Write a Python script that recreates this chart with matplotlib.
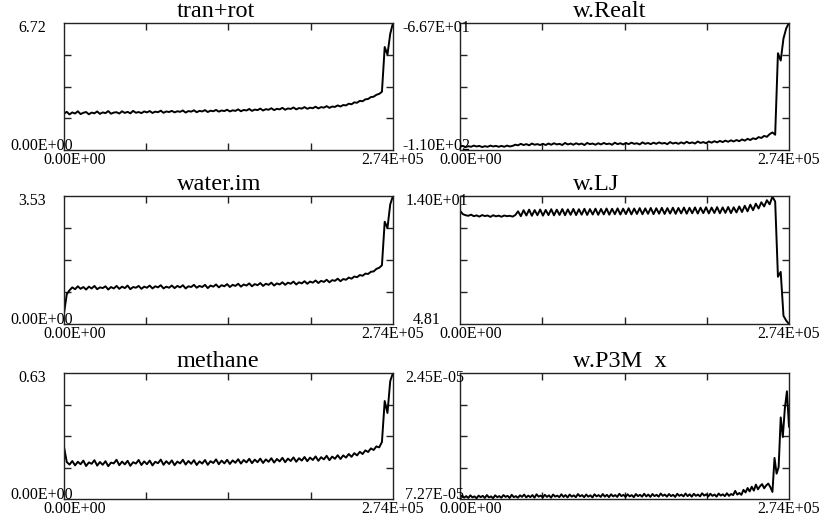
import numpy as np
import matplotlib
matplotlib.use('Agg')
import matplotlib.pyplot as plt

plt.rcParams['font.family'] = 'Liberation Serif'

x_max = 2.74e5

tran_rot = [
    1.92, 2.02, 1.88, 1.99, 1.93, 2.05, 1.90, 1.97, 2.01, 1.89,
    1.98, 1.94, 2.04, 1.91, 1.99, 1.95, 2.06, 1.92, 1.98, 2.00,
    1.93, 2.05, 1.96, 2.02, 1.94, 2.07, 1.97, 2.01, 1.95, 2.04,
    1.99, 2.06, 1.96, 2.03, 2.00, 2.08, 1.97, 2.04, 2.01, 2.07,
    1.99, 2.05, 2.02, 2.09, 1.98, 2.06, 2.03, 2.10, 2.00, 2.07,
    2.04, 2.11, 2.01, 2.08, 2.05, 2.12, 2.03, 2.09, 2.06, 2.13,
    2.04, 2.10, 2.07, 2.15, 2.05, 2.12, 2.09, 2.17, 2.07, 2.14,
    2.11, 2.19, 2.09, 2.16, 2.13, 2.21, 2.11, 2.18, 2.15, 2.23,
    2.13, 2.20, 2.17, 2.25, 2.15, 2.22, 2.19, 2.27, 2.18, 2.24,
    2.21, 2.29, 2.20, 2.27, 2.24, 2.32, 2.23, 2.30, 2.28, 2.36,
    2.30, 2.38, 2.36, 2.45, 2.42, 2.52, 2.50, 2.60, 2.58, 2.68,
    2.70, 2.80, 2.82, 2.92, 2.97, 3.08, 5.45, 5.05, 6.15, 6.72,
]

w_realt = [
    -108.9, -108.6, -109.0, -108.7, -108.9, -108.5, -108.8, -108.6, -109.0, -108.7,
    -108.9, -108.5, -108.8, -108.6, -108.9, -108.6, -108.9, -108.5, -108.8, -108.6,
    -108.2, -108.4, -107.9, -108.3, -108.0, -108.4, -107.8, -108.2, -108.0, -108.3,
    -107.9, -108.3, -107.8, -108.2, -107.7, -108.1, -107.9, -108.3, -107.6, -108.1,
    -107.8, -108.2, -107.7, -108.1, -107.8, -108.3, -107.6, -108.0, -107.8, -108.2,
    -107.7, -108.1, -107.6, -108.0, -107.8, -108.2, -107.5, -108.0, -107.7, -108.1,
    -107.6, -108.0, -107.5, -107.9, -107.7, -108.1, -107.4, -107.9, -107.6, -108.0,
    -107.5, -107.9, -107.4, -107.8, -107.6, -108.0, -107.3, -107.8, -107.5, -107.9,
    -107.4, -107.8, -107.2, -107.7, -107.4, -107.8, -107.1, -107.6, -107.3, -107.7,
    -107.1, -107.5, -107.0, -107.4, -106.9, -107.3, -106.8, -107.2, -106.7, -107.1,
    -106.6, -107.0, -106.4, -106.8, -106.2, -106.6, -106.0, -106.3, -105.6, -105.9,
    -105.2, -105.5, -104.6, -104.0, -104.8, -77.0, -79.5, -72.0, -68.5, -66.7,
]

water_im = [
    0.30, 0.82, 0.93, 1.01, 0.96, 1.04, 0.97, 1.02, 0.95, 1.03,
    0.98, 1.05, 0.96, 1.01, 0.99, 1.04, 0.95, 1.02, 0.98, 1.05,
    0.97, 1.03, 0.99, 1.06, 0.96, 1.02, 1.00, 1.05, 0.97, 1.03,
    1.00, 1.06, 0.98, 1.04, 1.01, 1.07, 0.98, 1.03, 1.00, 1.06,
    0.99, 1.05, 1.01, 1.07, 0.98, 1.04, 1.02, 1.08, 1.00, 1.05,
    1.02, 1.08, 0.99, 1.06, 1.03, 1.09, 1.01, 1.07, 1.04, 1.10,
    1.02, 1.08, 1.05, 1.11, 1.03, 1.09, 1.06, 1.12, 1.04, 1.10,
    1.07, 1.13, 1.05, 1.11, 1.08, 1.14, 1.06, 1.12, 1.09, 1.15,
    1.08, 1.14, 1.11, 1.17, 1.09, 1.15, 1.12, 1.18, 1.11, 1.17,
    1.14, 1.20, 1.13, 1.19, 1.16, 1.22, 1.15, 1.21, 1.19, 1.25,
    1.18, 1.24, 1.22, 1.28, 1.25, 1.31, 1.29, 1.35, 1.33, 1.39,
    1.38, 1.44, 1.45, 1.52, 1.55, 1.62, 2.82, 2.65, 3.30, 3.53,
]

w_lj = [
    12.95, 12.70, 12.62, 12.58, 12.66, 12.55, 12.61, 12.52, 12.63, 12.56,
    12.60, 12.50, 12.62, 12.54, 12.59, 12.51, 12.60, 12.55, 12.58, 12.52,
    12.63, 12.90, 12.55, 12.98, 12.60, 13.02, 12.58, 12.99, 12.62, 13.03,
    12.59, 13.00, 12.63, 13.05, 12.61, 13.02, 12.64, 13.06, 12.62, 13.04,
    12.65, 13.07, 12.63, 13.05, 12.66, 13.08, 12.64, 13.06, 12.67, 13.09,
    12.65, 13.07, 12.68, 13.10, 12.66, 13.08, 12.69, 13.11, 12.67, 13.09,
    12.70, 13.12, 12.68, 13.10, 12.71, 13.13, 12.69, 13.11, 12.72, 13.14,
    12.70, 13.12, 12.73, 13.15, 12.71, 13.13, 12.74, 13.16, 12.72, 13.14,
    12.75, 13.17, 12.73, 13.15, 12.76, 13.18, 12.74, 13.16, 12.77, 13.19,
    12.75, 13.17, 12.78, 13.20, 12.76, 13.18, 12.79, 13.21, 12.77, 13.19,
    12.82, 13.25, 12.85, 13.30, 12.90, 13.38, 12.98, 13.45, 13.10, 13.55,
    13.25, 13.70, 13.40, 13.95, 13.60, 8.20, 8.55, 5.40, 5.05, 4.81,
]

methane = [
    0.260, 0.185, 0.172, 0.190, 0.168, 0.186, 0.174, 0.192, 0.165, 0.183,
    0.176, 0.194, 0.167, 0.185, 0.171, 0.189, 0.164, 0.182, 0.178, 0.196,
    0.169, 0.187, 0.173, 0.191, 0.166, 0.184, 0.177, 0.195, 0.170, 0.188,
    0.174, 0.192, 0.168, 0.186, 0.179, 0.197, 0.171, 0.189, 0.175, 0.193,
    0.169, 0.187, 0.178, 0.196, 0.172, 0.190, 0.176, 0.194, 0.170, 0.188,
    0.177, 0.195, 0.171, 0.189, 0.180, 0.198, 0.174, 0.192, 0.178, 0.196,
    0.175, 0.193, 0.181, 0.199, 0.177, 0.195, 0.183, 0.201, 0.179, 0.197,
    0.184, 0.202, 0.180, 0.198, 0.186, 0.204, 0.182, 0.200, 0.188, 0.206,
    0.184, 0.202, 0.190, 0.208, 0.186, 0.204, 0.192, 0.210, 0.189, 0.207,
    0.195, 0.213, 0.191, 0.209, 0.198, 0.216, 0.194, 0.212, 0.201, 0.219,
    0.200, 0.218, 0.207, 0.225, 0.211, 0.229, 0.218, 0.236, 0.225, 0.243,
    0.235, 0.253, 0.245, 0.263, 0.258, 0.285, 0.490, 0.430, 0.590, 0.630,
]

# in units of 1e-5
w_p3m_x = [
    7.20, 7.14, 7.22, 7.16, 7.23, 7.13, 7.21, 7.17, 7.24, 7.14,
    7.20, 7.15, 7.23, 7.12, 7.21, 7.17, 7.24, 7.13, 7.20, 7.16,
    7.22, 7.12, 7.19, 7.15, 7.23, 7.11, 7.20, 7.16, 7.22, 7.13,
    7.19, 7.10, 7.21, 7.14, 7.20, 7.12, 7.22, 7.09, 7.18, 7.14,
    7.21, 7.11, 7.19, 7.13, 7.22, 7.10, 7.18, 7.14, 7.20, 7.09,
    7.19, 7.12, 7.21, 7.10, 7.18, 7.13, 7.20, 7.08, 7.17, 7.12,
    7.20, 7.10, 7.18, 7.13, 7.21, 7.09, 7.17, 7.12, 7.19, 7.08,
    7.18, 7.11, 7.20, 7.09, 7.17, 7.12, 7.19, 7.07, 7.16, 7.11,
    7.19, 7.09, 7.17, 7.12, 7.20, 7.08, 7.16, 7.11, 7.18, 7.07,
    7.17, 7.10, 7.19, 7.08, 7.16, 7.11, 7.18, 7.06, 7.15, 7.10,
    7.18, 7.08, 7.16, 7.11, 7.19, 7.07, 7.15, 7.10, 7.17, 7.06,
    7.16, 7.09, 7.18, 7.07, 7.15, 7.10, 7.17, 7.05, 7.14, 7.09,
    7.17, 7.07, 7.15, 7.10, 7.18, 7.06, 7.14, 7.09, 7.16, 7.05,
    7.15, 7.08, 7.12, 6.96, 7.10, 7.04, 7.11, 6.92, 7.02, 6.85,
    6.98, 6.80, 6.95, 6.72, 6.90, 6.78, 6.70, 6.86, 6.75, 6.68,
    6.82, 7.00, 5.70, 6.30, 6.05, 4.15, 4.90, 3.80, 3.15, 4.50,
]

titles = ['tran+rot', 'w.Realt', 'water.im', 'w.LJ', 'methane', 'w.P3M  x']
series = [tran_rot, w_realt, water_im, w_lj, methane, [v * 1e-5 for v in w_p3m_x]]
y_bottom = [0.0, -110.0, 0.0, 4.81, 0.0, 7.27e-5]
y_top = [6.72, -66.7, 3.53, 14.0, 0.63, 2.45e-5]
y_top_labels = ['6.72', '-6.67E+01', '3.53', '1.40E+01', '0.63', '2.45E-05']
y_bottom_labels = ['0.00E+00', '-1.10E+02', '0.00E+00', '4.81', '0.00E+00', '7.27E-05']
x_labels = ['0.00E+00', '2.74E+05']

# layout in pixels
W, H = 824, 523
rows = [(23, 150), (196, 324), (373, 499)]
cols = [(64, 393), (460, 789)]
top_dx = [-32, -24, -32, -23, -32, -25]
bot_dx = [-22, -24, -22, -33, -22, -26]

fig = plt.figure(figsize=(W / 100, H / 100), dpi=100)
fig.patch.set_facecolor('white')

for k in range(6):
    top, bottom = rows[k // 2]
    left, right = cols[k % 2]
    ax = fig.add_axes([left / W, 1 - bottom / H, (right - left) / W, (bottom - top) / H])
    y = np.array(series[k])
    x = np.linspace(0, x_max, len(y))
    ax.plot(x, y, color='black', lw=1.4)
    ax.set_xlim(0, x_max)
    ax.set_ylim(y_bottom[k], y_top[k])
    span = y_top[k] - y_bottom[k]
    ax.set_xticks([x_max * f for f in (0.25, 0.5, 0.75)])
    ax.set_yticks([y_bottom[k] + span * f for f in (0.25, 0.5, 0.75)])
    ax.set_xticklabels([])
    ax.set_yticklabels([])
    ax.tick_params(direction='in', length=5, width=1, color='#222222',
                   top=True, right=True)
    for s in ax.spines.values():
        s.set_color('#222222')
        s.set_linewidth(1.0)

    ax.annotate(titles[k], xy=(0, 1), xycoords='axes fraction', xytext=(113, 6),
                textcoords='offset pixels', ha='left', va='baseline', fontsize=17.5)
    ax.annotate(y_top_labels[k], xy=(0, 1), xycoords='axes fraction', xytext=(top_dx[k], -5),
                textcoords='offset pixels', ha='center', va='center', fontsize=11.5)
    ax.annotate(y_bottom_labels[k], xy=(0, 0), xycoords='axes fraction', xytext=(bot_dx[k], 4),
                textcoords='offset pixels', ha='center', va='center', fontsize=11.5)
    ax.annotate(x_labels[0], xy=(0, 0), xycoords='axes fraction', xytext=(-21, -10),
                textcoords='offset pixels', ha='left', va='center', fontsize=11.5)
    ax.annotate(x_labels[1], xy=(1, 0), xycoords='axes fraction', xytext=(0, -10),
                textcoords='offset pixels', ha='center', va='center', fontsize=11.5)

fig.savefig('out.png', dpi=100)
